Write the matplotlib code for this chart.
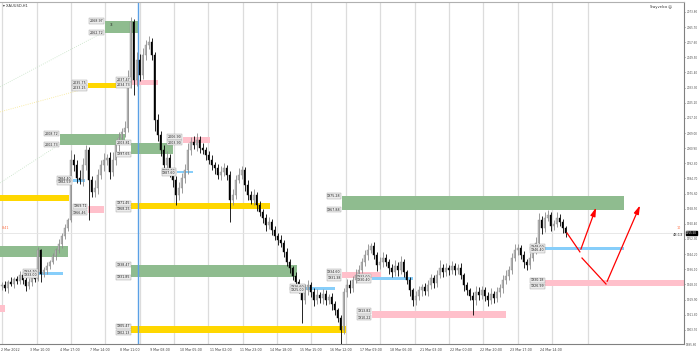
import matplotlib
matplotlib.use("Agg")
import matplotlib.pyplot as plt
from matplotlib.patches import Rectangle
from matplotlib.transforms import blended_transform_factory

# ---------------- data ----------------
first_open = 1926.9
closes = [
    1927.7, 1926.1, 1929.3, 1928.2, 1930.9, 1929.8, 1933.0, 1930.4, 1927.2, 1929.3,
    1932.5, 1930.9, 1946.4, 1933.6, 1935.7, 1937.9, 1940.0, 1943.2, 1946.4, 1949.6,
    1953.9, 1958.2, 1962.5, 1994.6, 1991.9, 1985.0, 1983.9, 1991.9, 1999.9, 1983.9,
    1977.5, 1979.6, 1986.6, 1991.9, 1994.6, 1995.7, 1988.2, 1994.6, 2002.6, 2006.4,
    2009.6, 2011.7, 2034.7, 2068.4, 2037.4, 2048.1, 2040.1, 2050.8, 2056.1, 2057.7,
    2050.8, 2016.0, 2008.0, 1999.9, 1991.9, 1995.7, 1988.2, 1983.9, 1975.9, 1979.6,
    1985.0, 1989.2, 1999.9, 2004.2, 2002.6, 2005.3, 2001.0, 1999.9, 1997.3, 1994.6,
    1991.9, 1990.3, 1986.6, 1988.2, 1990.3, 1986.6, 1973.2, 1975.9, 1983.9, 1986.6,
    1989.2, 1981.2, 1975.9, 1973.2, 1975.9, 1970.5, 1966.8, 1963.5, 1959.8, 1961.4,
    1957.1, 1953.9, 1951.8, 1950.2, 1945.4, 1940.0, 1936.8, 1932.5, 1929.3, 1926.1,
    1919.7, 1925.0, 1927.7, 1924.0, 1919.7, 1922.4, 1920.7, 1922.9, 1919.7, 1921.3,
    1917.5, 1914.3, 1910.0, 1903.6, 1924.0, 1927.7, 1926.1, 1930.4, 1933.0, 1935.7,
    1940.0, 1943.8, 1946.4, 1948.6, 1943.8, 1938.4, 1940.0, 1942.1, 1940.0, 1936.8,
    1934.7, 1937.9, 1935.7, 1940.0, 1934.7, 1930.4, 1925.0, 1919.7, 1921.8, 1925.0,
    1926.6, 1924.5, 1927.7, 1931.4, 1928.8, 1933.0, 1936.8, 1934.7, 1936.8, 1935.7,
    1937.9, 1935.7, 1936.8, 1933.0, 1927.7, 1925.0, 1921.8, 1919.7, 1924.0, 1922.4,
    1925.0, 1921.8, 1919.7, 1922.9, 1920.7, 1924.0, 1926.1, 1930.4, 1932.5, 1935.7,
    1942.1, 1946.4, 1947.5, 1943.8, 1940.0, 1938.4, 1942.1, 1946.4, 1950.2, 1962.5,
    1958.2, 1963.5, 1965.2, 1959.3, 1960.3, 1963.5, 1961.4, 1958.2, 1955.5,
]
upper_wick = [
    1.5, 2.0, 1.2, 2.5, 1.0, 1.8, 2.2, 1.0, 1.5, 2.0,
    1.2, 1.5, 1.6, 0.8, 1.5, 2.0, 1.2, 1.8, 1.0, 2.5,
    1.5, 2.0, 1.2, 5.3, 3.0, 2.5, 4.0, 3.5, 2.7, 1.5,
    2.0, 4.5, 3.0, 2.5, 3.5, 2.0, 3.0, 4.0, 2.5, 3.0,
    2.0, 3.5, 8.0, 2.7, 1.5, 4.0, 3.0, 3.5, 2.5, 3.0,
    2.0, 1.5, 3.0, 2.0, 2.5, 3.5, 2.0, 1.5, 2.0, 3.0,
    2.5, 3.0, 4.0, 2.5, 3.0, 3.5, 2.0, 2.5, 1.5, 2.0,
    2.5, 1.5, 2.0, 3.0, 2.5, 1.5, 2.0, 3.0, 2.5, 3.5,
    2.0, 1.5, 2.5, 2.0, 3.0, 1.5, 2.0, 1.5, 2.0, 2.5,
    1.5, 2.0, 1.5, 2.5, 1.5, 2.0, 1.5, 1.0, 2.0, 1.5,
    1.5, 3.0, 2.5, 1.5, 2.0, 3.0, 1.5, 2.5, 2.0, 1.5,
    2.0, 1.5, 1.0, 1.5, 2.0, 3.0, 2.5, 2.0, 3.0, 2.5,
    2.0, 2.5, 3.0, 1.5, 2.0, 1.5, 2.5, 3.0, 2.0, 1.5,
    2.0, 3.0, 2.0, 3.0, 1.5, 1.0, 1.5, 1.0, 2.5, 2.0,
    1.5, 2.0, 2.5, 2.0, 1.5, 2.5, 4.3, 2.0, 2.5, 1.5,
    2.5, 1.5, 2.0, 2.5, 1.0, 1.5, 1.0, 2.0, 3.0, 2.5,
    2.0, 1.5, 2.0, 3.0, 1.5, 2.5, 2.0, 2.5, 3.0, 2.0,
    2.5, 3.0, 2.0, 1.5, 2.0, 1.5, 2.5, 2.0, 3.0, 3.7,
    2.0, 3.0, 2.5, 1.5, 2.0, 3.0, 2.0, 1.5, 1.0,
]
lower_wick = [
    2.0, 1.5, 2.5, 1.2, 2.0, 1.5, 1.8, 2.0, 2.5, 1.5,
    2.0, 1.5, 1.0, 4.3, 1.5, 2.0, 1.5, 1.2, 2.0, 1.5,
    2.0, 1.5, 1.5, 1.0, 3.0, 2.5, 2.0, 3.0, 2.5, 21.4,
    3.0, 2.5, 3.5, 2.0, 3.0, 2.5, 4.0, 2.0, 2.5, 3.0,
    2.0, 2.5, 2.0, 1.5, 8.0, 3.0, 3.5, 2.0, 2.5, 2.0,
    3.0, 6.0, 3.5, 3.0, 3.5, 2.0, 3.0, 4.0, 5.4, 3.0,
    2.5, 3.0, 2.0, 2.5, 2.0, 3.0, 2.5, 2.0, 3.0, 2.0,
    2.5, 3.0, 2.0, 2.5, 2.0, 3.0, 12.0, 2.5, 2.0, 1.5,
    2.0, 3.0, 2.5, 2.0, 2.5, 3.0, 2.0, 2.5, 3.0, 2.0,
    2.5, 2.0, 2.5, 2.0, 3.0, 2.0, 2.5, 2.0, 3.0, 2.5,
    12.3, 2.0, 2.5, 3.0, 3.5, 2.0, 2.5, 3.0, 2.5, 2.0,
    3.0, 2.5, 2.0, 8.5, 2.0, 3.0, 2.5, 2.0, 1.5, 2.0,
    1.5, 2.0, 2.5, 1.5, 2.0, 3.0, 2.0, 2.5, 2.0, 3.0,
    2.5, 2.0, 3.0, 2.0, 2.5, 2.0, 3.0, 3.5, 2.5, 2.0,
    3.0, 2.0, 2.5, 2.0, 3.0, 2.0, 1.5, 2.5, 2.0, 2.5,
    2.0, 2.5, 2.0, 2.0, 3.0, 2.5, 2.0, 8.1, 2.5, 3.0,
    2.0, 2.5, 3.0, 2.0, 2.5, 2.0, 3.0, 2.5, 2.0, 2.0,
    2.0, 1.5, 2.5, 2.0, 3.0, 2.5, 2.0, 1.5, 2.0, 1.5,
    3.0, 2.0, 1.5, 2.5, 2.0, 1.5, 2.0, 2.5, 2.0,
]

# zones: start bar, end bar, top price, bottom price
green_x0 = [35.0, 20.0, 43.7, 0.0, 43.7, 114.0]
green_x1 = [46.0, 41.7, 57.7, 22.7, 99.0, 208.0]
green_top = [2068.97, 2008.72, 2003.81, 1948.55, 1938.47, 1975.28]
green_bot = [2062.72, 2002.73, 1997.65, 1942.70, 1931.85, 1967.88]

gold_x0 = [29.3, 0.0, 43.7, 43.7]
gold_x1 = [43.7, 23.0, 90.0, 115.3]
gold_top = [2035.75, 1975.90, 1971.45, 1905.47]
gold_bot = [2033.15, 1972.60, 1968.25, 1902.13]

pink_x0 = [44.0, 29.3, 61.0, 114.0, 124.0, 181.7, 0.0]
pink_x1 = [52.7, 34.7, 70.0, 127.0, 168.7, 228.0, 1.7]
pink_top = [2037.47, 1969.71, 2006.90, 1934.60, 1913.82, 1930.18, 1917.00]
pink_bot = [2034.73, 1966.46, 2003.90, 1931.38, 1910.22, 1926.99, 1913.30]

blue_x0 = [24.3, 12.7, 59.0, 101.7, 124.0, 181.7]
blue_x1 = [28.3, 21.0, 64.3, 111.7, 137.7, 208.0]
blue_top = [1984.40, 1934.70, 1988.70, 1926.60, 1932.00, 1948.00]
blue_bot = [1982.59, 1933.00, 1987.60, 1925.00, 1930.40, 1946.40]

arrow_a_x = [189.0, 193.3, 199.0]
arrow_a_p = [1955.5, 1945.4, 1970.5]
arrow_b_x = [194.0, 202.0, 213.7]
arrow_b_p = [1942.1, 1928.2, 1971.6]

trend_lines = [  # x0, p0, x1, p1, colour
    (0.0, 2033.7, 34.7, 2063.1, "#c4e2c4"),
    (0.0, 1982.3, 20.0, 2003.1, "#c4e2c4"),
    (0.0, 2020.3, 29.3, 2033.1, "#f7e68c"),
]

vline_bar = 46.0
bid_price = 1955.5

x_labels = ["2 Mar 2022", "3 Mar 10:00", "4 Mar 17:00", "7 Mar 14:00", "8 Mar 11:00",
            "9 Mar 08:00", "10 Mar 05:00", "11 Mar 02:00", "11 Mar 23:00",
            "14 Mar 18:00", "15 Mar 15:00", "16 Mar 12:00", "17 Mar 09:00",
            "18 Mar 06:00", "21 Mar 03:00", "22 Mar 00:00", "22 Mar 20:00",
            "23 Mar 17:00", "24 Mar 14:00"]
x_label_pos = [0.2, 10, 20, 30, 40, 50, 60, 70, 80, 90, 100, 110, 120, 130, 140,
               150, 160, 170, 180]
grid_pos = [0.67, 12.2, 23.7, 35.0, 46.5, 58.0, 69.3, 81.0, 92.3, 103.7, 115.3,
            126.7, 138.3, 149.7, 161.0, 172.7, 184.0, 196.0]
y_ticks = [1903.70, 1911.80, 1919.90, 1928.00, 1936.10, 1944.20, 1952.30,
           1960.40, 1968.50, 1976.60, 1984.70, 1992.80, 2000.90, 2009.00, 2017.10,
           2025.20, 2033.30, 2041.40, 2049.50, 2057.60, 2065.70, 2073.80]

# ---------------- figure ----------------
fig = plt.figure(figsize=(7, 3.62), dpi=100)
ax = fig.add_axes([0, 18 / 362, 684 / 700, 342 / 362])
ax.set_xlim(0, 228)
ax.set_ylim(1896.1, 2079.1)
FS = 2.3
FSY = 2.0

for g in grid_pos:
    ax.axvline(g, color="#dcdcdc", lw=0.9, zorder=0)


def draw_zones(x0s, x1s, tops, bots, colour, labels=True):
    for x0, x1, t, b in zip(x0s, x1s, tops, bots):
        ax.add_patch(Rectangle((x0, b), x1 - x0, t - b, facecolor=colour,
                               edgecolor="none", zorder=1))
        if labels and x0 > 2:
            for v in (t, b):
                ax.text(x0 - 0.4, v, f"{v:.2f}", fontsize=FS, ha="right",
                        va="center", color="#222222", zorder=6,
                        bbox=dict(boxstyle="square,pad=0.2", fc="#ececec",
                                  ec="#9a9a9a", lw=0.3))


draw_zones(green_x0, green_x1, green_top, green_bot, "#8fbc8f")
draw_zones(gold_x0, gold_x1, gold_top, gold_bot, "#ffd700")
draw_zones(pink_x0, pink_x1, pink_top, pink_bot, "#ffc0cb")
draw_zones(blue_x0, blue_x1, blue_top, blue_bot, "#87cefa")

for x0, p0, x1, p1, col in trend_lines:
    ax.plot([x0, x1], [p0, p1], color=col, lw=0.6, ls=":", zorder=1)

ax.axvline(vline_bar, color="#5aa0e6", lw=1.0, zorder=2)
ax.axhline(bid_price, color="#e4e4e4", lw=0.6, zorder=0.5)

# candles
prev = first_open
for i, c in enumerate(closes):
    o = prev
    h = max(o, c) + upper_wick[i]
    l = min(o, c) - lower_wick[i]
    x = i + 0.5
    if c >= o:
        ax.vlines(x, l, h, color="#8c8c8c", lw=0.6, zorder=3)
        ax.bar(x, max(c - o, 0.3), bottom=o, width=0.55, color="#c8c8c8",
               edgecolor="#8c8c8c", linewidth=0.3, zorder=4)
    else:
        ax.vlines(x, l, h, color="#000000", lw=0.6, zorder=3)
        ax.bar(x, o - c, bottom=c, width=0.55, color="#000000",
               edgecolor="#000000", linewidth=0.3, zorder=4)
    prev = c

# red projection arrows
for xs, ps in ((arrow_a_x, arrow_a_p), (arrow_b_x, arrow_b_p)):
    ax.plot(xs[:2], ps[:2], color="red", lw=0.9, zorder=7)
    ax.annotate("", xy=(xs[2], ps[2]), xytext=(xs[1], ps[1]),
                arrowprops=dict(arrowstyle="-|>,head_length=0.5,head_width=0.15",
                                color="red", lw=0.9), zorder=7)

ax.text(36.5, 2066.5, "3", fontsize=3, color="#222222", zorder=6)

# axes styling
ax.spines["left"].set_visible(False)
ax.spines["top"].set_color("#b0b0b0")
ax.spines["right"].set_color("#808080")
ax.spines["bottom"].set_color("#808080")
for s in ("top", "right", "bottom"):
    ax.spines[s].set_linewidth(0.8)

ax.yaxis.tick_right()
ax.set_yticks(y_ticks)
ax.set_yticklabels([f"{v:.2f}" for v in y_ticks])
ax.tick_params(axis="y", length=1.0, width=0.5, pad=1.0, labelsize=FSY,
               colors="#505050")
ax.set_xticks(x_label_pos)
ax.set_xticklabels(x_labels)
ax.tick_params(axis="x", length=0, pad=3, labelsize=FS, colors="#404040")
for t in ax.get_xticklabels():
    t.set_ha("left")

trans = blended_transform_factory(ax.transAxes, ax.transData)
ax.text(1.003, 1895.6, "1895.60", fontsize=FSY, color="#505050", va="center",
        ha="left", transform=trans, clip_on=False)
ax.text(1.003, bid_price, f"{bid_price:.2f}", fontsize=FSY, color="white",
        va="center", ha="left", transform=trans, clip_on=False, zorder=8,
        bbox=dict(boxstyle="square,pad=0.15", fc="black", ec="black"))
ax.text(0.998, bid_price - 1.2, "48:13", fontsize=2.6, color="#303030",
        va="center", ha="right", transform=trans)
ax.text(0.996, bid_price + 2.5, "10", fontsize=2.4, color="#ff6a3d",
        va="center", ha="right", transform=trans)
ax.text(0.003, bid_price + 2.8, "0:41", fontsize=2.4, color="#ff6a3d",
        va="center", ha="left", transform=trans)

fig.text(3 / 700, 1 - 6 / 362, "\u25be XAUUSD,H1", fontsize=2.6, color="#303030",
         va="center", ha="left")
fig.text(672 / 700, 1 - 7 / 362, "Swyvelco \u263a", fontsize=2.6, color="#303030",
         va="center", ha="right")

fig.savefig("out.png", dpi=100)
